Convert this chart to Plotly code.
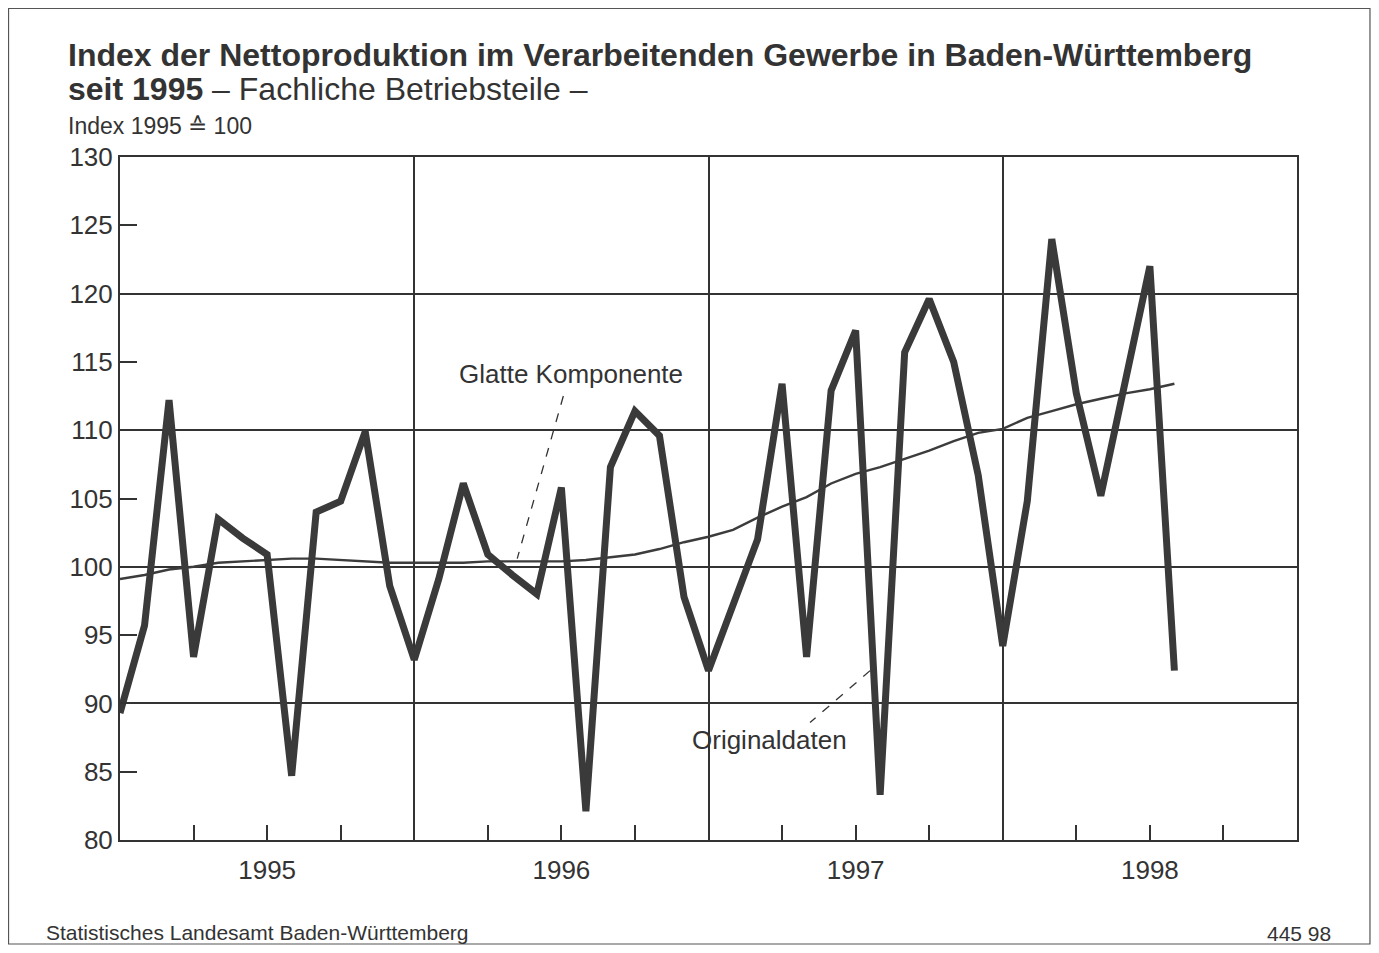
import plotly.graph_objects as go

# ---------------- data ----------------
months = list(range(48))  # Jan 1995 .. Dec 1998 (month index)
orig_values = [
    89.3, 95.7, 112.2, 93.4, 103.5, 102.1, 100.9, 84.7, 104.0, 104.8, 109.9, 98.6,   # 1995
    93.2, 99.1, 106.1, 100.9, 99.4, 98.0, 105.8, 82.1, 107.3, 111.4, 109.6, 97.8,    # 1996
    92.4, 97.3, 102.0, 113.4, 93.4, 112.9, 117.3, 83.3, 115.7, 119.6, 115.0, 106.7,  # 1997
    94.2, 104.8, 124.0, 112.7, 105.2, 113.6, 122.0, 92.4,                            # 1998
]
smooth_values = [
    99.1, 99.4, 99.8, 100.0, 100.3, 100.4, 100.5, 100.6, 100.6, 100.5, 100.4, 100.3,
    100.3, 100.3, 100.3, 100.4, 100.4, 100.4, 100.4, 100.5, 100.7, 100.9, 101.3, 101.8,
    102.2, 102.7, 103.6, 104.4, 105.1, 106.1, 106.8, 107.3, 107.9, 108.5, 109.2, 109.8,
    110.1, 110.9, 111.4, 111.9, 112.3, 112.7, 113.0, 113.4,
]
year_labels = ["1995", "1996", "1997", "1998"]
quarter_ticks = [3, 6, 9, 15, 18, 21, 27, 30, 33, 39, 42, 45]
year_bounds = [12, 24, 36]
y_grid = [90, 100, 110, 120]

tick_text = []
for t in quarter_ticks:
    if t % 12 == 6:
        tick_text.append(year_labels[t // 12])
    else:
        tick_text.append("")

INK = "#333333"
FONT = "Liberation Sans, Arial, sans-serif"

fig = go.Figure()
fig.add_trace(go.Scatter(
    x=months[:len(smooth_values)], y=smooth_values, mode="lines",
    line=dict(color="#3c3c3c", width=2.4), hoverinfo="skip", showlegend=False))
fig.add_trace(go.Scatter(
    x=months[:len(orig_values)], y=orig_values, mode="lines",
    line=dict(color="#3a3a3a", width=7), hoverinfo="skip", showlegend=False))

# leader lines (dashed)
fig.add_shape(type="line", x0=18.08, y0=112.5, x1=16.2, y1=100.6,
              line=dict(color=INK, width=1.3, dash="dash"))
fig.add_shape(type="line", x0=30.59, y0=92.4, x1=28.14, y1=88.6,
              line=dict(color=INK, width=1.3, dash="dash"))

# outer frame
fig.add_shape(type="rect", xref="paper", yref="paper",
              x0=-0.0947, x1=1.0620, y0=-0.1523, y1=1.2174,
              line=dict(color="#555555", width=1.2), layer="below")

ann = []
ann.append(dict(text="Glatte Komponente", x=18.39, y=114.1, xref="x", yref="y",
                showarrow=False, font=dict(size=26, color=INK, family=FONT)))
ann.append(dict(text="Originaldaten", x=26.5, y=87.3, xref="x", yref="y",
                showarrow=False, font=dict(size=26, color=INK, family=FONT)))
ann.append(dict(text="<b>Index der Nettoproduktion im Verarbeitenden Gewerbe in Baden-Württemberg</b>",
                x=-0.046, y=1.1493, xref="paper", yref="paper", xanchor="left", yanchor="middle",
                showarrow=False, font=dict(size=32, color=INK, family=FONT)))
ann.append(dict(text="<b>seit 1995</b> – Fachliche Betriebsteile –",
                x=-0.046, y=1.0996, xref="paper", yref="paper", xanchor="left", yanchor="middle",
                showarrow=False, font=dict(size=32, color=INK, family=FONT)))
ann.append(dict(text="Index 1995 ≙ 100",
                x=-0.046, y=1.0454, xref="paper", yref="paper", xanchor="left", yanchor="middle",
                showarrow=False, font=dict(size=23, color=INK, family=FONT)))
ann.append(dict(text="Statistisches Landesamt Baden-Württemberg",
                x=-0.0645, y=-0.1347, xref="paper", yref="paper", xanchor="left", yanchor="middle",
                showarrow=False, font=dict(size=21, color=INK, family=FONT)))
ann.append(dict(text="445 98",
                x=1.0306, y=-0.1376, xref="paper", yref="paper", xanchor="right", yanchor="middle",
                showarrow=False, font=dict(size=21, color=INK, family=FONT)))

fig.update_layout(
    width=1363, height=937, autosize=False,
    margin=dict(l=112, r=74, t=149, b=105),
    paper_bgcolor="white", plot_bgcolor="white",
    annotations=ann,
    font=dict(family=FONT, color=INK),
    xaxis=dict(
        range=[0, 48], tickmode="array", tickvals=quarter_ticks, ticktext=tick_text,
        ticks="inside", ticklen=15, tickwidth=2, tickcolor=INK,
        ticklabelstandoff=6,
        showgrid=False, zeroline=False,
        showline=True, mirror=True, linecolor=INK, linewidth=2,
        tickfont=dict(size=26, color=INK, family=FONT),
        minor=dict(tickmode="array", tickvals=year_bounds, showgrid=True,
                   gridcolor=INK, gridwidth=1.8, ticks=""),
    ),
    yaxis=dict(
        range=[80, 130], tickmode="linear", tick0=80, dtick=5,
        ticks="inside", ticklen=17, tickwidth=2, tickcolor=INK,
        showgrid=False, zeroline=False,
        showline=True, mirror=True, linecolor=INK, linewidth=2,
        tickfont=dict(size=26, color=INK, family=FONT),
        minor=dict(tickmode="array", tickvals=y_grid, showgrid=True,
                   gridcolor=INK, gridwidth=1.8, ticks=""),
    ),
)

fig.write_html("out.html")
